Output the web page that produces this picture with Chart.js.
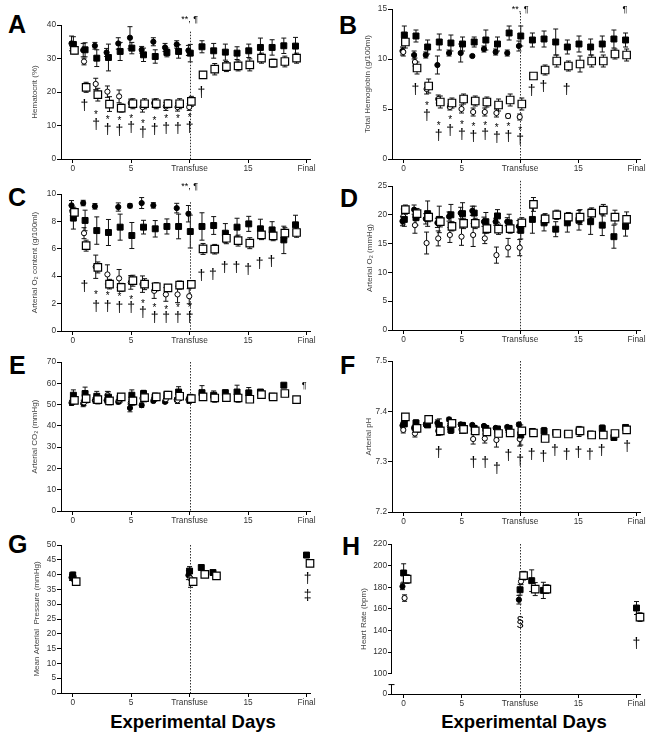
<!DOCTYPE html>
<html lang="en">
<head>
<meta charset="UTF-8">
<title>Experimental Days - panels A-H</title>
<script src="https://cdn.jsdelivr.net/npm/chart.js"></script>
<style>
    body { margin: 0; background: #fff; width: 653px; height: 735px; position: relative; overflow: hidden; font-family: "Liberation Sans", Arial, sans-serif; }
    canvas { position: absolute; }
    .lbl { position: absolute; font-weight: bold; font-size: 25px; line-height: 25px; color: #000; }
    .xt { position: absolute; font-weight: bold; font-size: 18.5px; line-height: 20px; width: 300px; text-align: center; color: #000; }
</style>
</head>
<body>
<div class="lbl" style="left:8px;top:12px">A</div>
<div class="lbl" style="left:339px;top:13px">B</div>
<div class="lbl" style="left:8px;top:185px">C</div>
<div class="lbl" style="left:340px;top:186px">D</div>
<div class="lbl" style="left:9px;top:353px">E</div>
<div class="lbl" style="left:340px;top:353px">F</div>
<div class="lbl" style="left:8px;top:532px">G</div>
<div class="lbl" style="left:342px;top:534px">H</div>
<div class="xt" style="left:43px;top:712px">Experimental Days</div>
<div class="xt" style="left:374px;top:712px">Experimental Days</div>

<script>
    const FONT = '"Liberation Sans", Arial, sans-serif';

    // x axis
    const xTickVals = [0, 5, 10, 15, 20];
    const xTickLabels = ['0', '5', 'Transfuse', '15', 'Final'];
    const days = [0, 1, 2, 3, 4, 5, 6, 7, 8, 9, 10, 11, 12, 13, 14, 15, 16, 17, 18, 19];
    const shortDays = [0, 10, 11, 12, 20];

    // A - hematocrit
    const A_yTicks = [0, 10, 20, 30, 40];
    const A_fc = [34.5, 32.5, 33.8, 31.8, 34.5, 36.2, 32.6, 35.0, 33.3, 34.2, 32.4];
    const A_fcErr = [2.2, 2.0, 1.0, 1.2, 1.7, 3.3, 1.0, 1.2, 1.2, 1.1, 1.5];
    const A_oc = [34.0, 29.1, 22.4, 20.1, 18.7, 16.7, 15.5, 16.7, 15.7, 15.5, 15.5];
    const A_ocErr = [1.0, 1.0, 1.7, 1.7, 1.9, 1.2, 1.5, 1.2, 1.2, 1.2, 1.0];
    const A_fs = [34.2, 32.6, 30.1, 30.3, 32.1, 33.1, 31.1, 30.6, 31.8, 32.1, 31.6, 33.5, 32.3, 31.9, 31.6, 32.3, 33.3, 33.3, 33.8, 33.7];
    const A_fsErr = [2.3, 2.1, 2.5, 4.0, 2.7, 1.7, 2.0, 2.0, 1.3, 2.0, 2.6, 1.8, 2.2, 2.4, 1.9, 2.0, 2.8, 2.3, 2.3, 2.6];
    const A_os = [32.4, 21.4, 19.2, 16.4, 15.2, 16.5, 16.5, 16.5, 16.5, 16.5, 17.2, 25.1, 26.8, 27.6, 27.8, 28.1, 30.1, 28.6, 29.1, 30.1];
    const A_osErr = [1.0, 1.5, 1.9, 2.2, 1.2, 1.5, 1.5, 1.5, 1.2, 1.5, 1.5, 1.0, 1.7, 1.5, 1.5, 1.8, 1.5, 1.2, 1.6, 1.5];
    const A_notes = [[1, 15.9, '†'], [2, 13.0, '*'], [2, 10.2, '†'], [3, 11.7, '*'], [3, 8.7, '†'], [4, 11.2, '*'], [4, 8.4, '†'],
        [5, 11.9, '*'], [5, 9.2, '†'], [6, 10.4, '*'], [6, 7.7, '†'], [7, 11.4, '*'], [7, 8.7, '†'], [8, 11.9, '*'], [8, 8.9, '†'],
        [9, 11.9, '*'], [9, 8.9, '†'], [10, 12.2, '*'], [10, 9.2, '†'], [11, 19.7, '†'], [10, 41.5, '**, ¶']];

    // B - total hemoglobin
    const B_yTicks = [0, 5, 10, 15];
    const B_fc = [10.8, 10.4, 10.4, 9.4, 10.6, 10.6, 10.3, 11.0, 10.7, 10.6, 11.3];
    const B_fcErr = [0.4, 0.4, 0.3, 0.9, 0.3, 0.9, 0.1, 0.3, 0.3, 0.3, 0.5];
    const B_oc = [10.7, 9.7, 7.0, 6.0, 5.2, 5.0, 4.7, 4.7, 4.6, 4.3, 4.2];
    const B_ocErr = [0.4, 0.4, 0.5, 0.4, 0.3, 0.4, 0.4, 0.4, 0.4, 0.2, 0.3];
    const B_fs = [12.4, 12.3, 11.2, 11.7, 11.6, 11.5, 11.7, 11.9, 11.5, 12.6, 12.3, 11.9, 12.0, 11.7, 11.2, 11.5, 11.2, 11.5, 12.0, 11.9];
    const B_fsErr = [0.9, 0.6, 0.7, 0.8, 0.8, 0.7, 0.5, 1.0, 0.7, 0.7, 1.0, 0.7, 0.8, 1.3, 0.7, 0.8, 0.8, 0.8, 0.9, 0.7];
    const B_os = [11.7, 9.1, 7.3, 5.7, 5.6, 6.0, 5.8, 5.7, 5.4, 5.9, 5.5, 8.3, 8.9, 9.8, 9.3, 9.5, 9.8, 9.8, 10.5, 10.4];
    const B_osErr = [0.6, 0.6, 0.7, 0.6, 0.5, 0.5, 0.5, 0.5, 0.6, 0.6, 0.6, 0.2, 0.5, 0.6, 0.5, 0.8, 0.6, 0.6, 0.5, 0.6];
    const B_notes = [[1, 6.9, '†'], [2, 5.3, '*'], [2, 4.3, '†'], [3, 3.3, '*'], [3, 2.3, '†'], [4, 3.9, '*'], [4, 2.8, '†'],
        [5, 3.4, '*'], [5, 2.4, '†'], [6, 3.2, '*'], [6, 2.2, '†'], [7, 3.3, '*'], [7, 2.4, '†'], [8, 3.1, '*'], [8, 2.1, '†'],
        [9, 3.2, '*'], [9, 2.2, '†'], [10, 2.8, '*'], [10, 1.9, '†'], [11, 6.8, '†'], [12, 7.2, '†'], [14, 6.9, '†'],
        [10, 14.9, '**, ¶'], [19, 14.9, '¶']];

    // C - arterial O2 content
    const C_yTicks = [0, 2, 4, 6, 8, 10];
    const C_fc = [9.17, 9.34, 9.1, null, 9.05, 9.14, 9.34, 9.17, null, 8.97, 8.56];
    const C_fcErr = [0.35, 0.2, 0.2, null, 0.3, 0.15, 0.4, 0.2, null, 0.35, 0.6];
    const C_oc = [8.73, 7.14, 4.69, 4.13, 3.84, 3.55, 3.42, 2.93, 2.67, 2.67, 2.54];
    const C_ocErr = [0.3, 0.4, 0.85, 0.7, 0.65, 0.5, 0.6, 0.55, 0.5, 0.6, 0.55];
    const C_fs = [8.24, 8.07, 7.33, 7.19, 7.58, 6.97, 7.58, 7.46, 7.63, 7.63, 7.26, 7.63, 7.7, 7.14, 7.58, 7.82, 7.46, 7.38, 6.65, 7.75];
    const C_fsErr = [0.8, 0.75, 1.0, 0.95, 0.95, 0.95, 0.5, 0.6, 0.55, 0.9, 1.2, 1.0, 0.65, 0.7, 0.65, 0.55, 0.7, 0.6, 1.0, 0.7];
    const C_os = [8.66, 6.23, 4.64, 3.42, 3.18, 3.67, 3.42, 3.23, 3.15, 3.35, 3.4, 5.99, 5.97, 6.77, 6.6, 6.41, 7.02, 6.94, 7.14, 7.19];
    const C_osErr = [0.3, 0.4, 0.4, 0.35, 0.3, 0.4, 0.4, 0.3, 0.2, 0.3, 0.2, 0.4, 0.35, 0.4, 0.4, 0.4, 0.35, 0.35, 0.4, 0.35];
    const C_notes = [[1, 3.18, '†'], [2, 2.6, '*'], [2, 1.76, '†'], [3, 2.54, '*'], [3, 1.76, '†'], [4, 2.49, '*'], [4, 1.64, '†'],
        [5, 2.25, '*'], [5, 1.64, '†'], [6, 1.96, '*'], [6, 1.27, '†'], [7, 1.64, '*'], [7, 0.95, '†'], [8, 1.52, '*'], [8, 0.95, '†'],
        [9, 1.64, '*'], [9, 0.95, '†'], [10, 1.64, '*'], [10, 0.95, '†'], [11, 4.0, '†'], [12, 4.08, '†'], [13, 4.57, '†'],
        [14, 4.57, '†'], [15, 4.45, '†'], [16, 4.87, '†'], [17, 5.06, '†'], [10, 10.56, '**, ¶']];

    // D - arterial O2
    const D_yTicks = [0, 5, 10, 15, 20, 25];
    const D_fc = [18.9, 20.9, 19.3, 18.6, 19.7, 20.3, 20.7, 18.8, 18.8, 18.8, 18.0];
    const D_fcErr = [0.8, 0.8, 0.9, 0.8, 0.8, 1.0, 0.8, 0.8, 0.6, 0.7, 1.0];
    const D_oc = [19.7, 18.2, 15.1, 15.9, 16.5, 16.2, 16.5, 15.9, 13.0, 14.3, 14.3];
    const D_ocErr = [1.3, 1.4, 1.9, 1.3, 1.3, 1.5, 2.0, 0.9, 1.4, 1.6, 1.4];
    const D_fs = [19.2, 19.5, 20.2, 19.2, 20.0, 20.2, 20.3, 18.8, 19.8, 18.6, 17.3, 19.2, 18.6, 17.5, 18.6, 19.05, 18.8, 18.2, 16.2, 18.0];
    const D_fsErr = [1.2, 1.3, 2.2, 2.3, 1.8, 1.9, 1.2, 1.6, 1.1, 1.5, 1.5, 2.4, 1.4, 1.3, 1.6, 1.7, 2.2, 1.8, 2.0, 1.7];
    const D_os = [20.9, 20.2, 19.6, 18.8, 18.0, 18.5, 18.5, 17.6, 17.5, 17.6, 18.6, 21.8, 19.3, 20.0, 19.6, 19.6, 20.3, 20.8, 19.6, 19.2];
    const D_osErr = [0.8, 0.9, 0.8, 0.9, 0.8, 0.9, 0.9, 0.8, 0.9, 0.8, 0.9, 1.2, 0.9, 0.8, 0.8, 1.3, 0.9, 1.0, 1.2, 1.3];

    // E - arterial CO2
    const E_yTicks = [0, 10, 20, 30, 40, 50, 60, 70];
    const E_fc = [50.8, 50.5, 52.0, 52.0, 51.3, 48.4, 49.7, 51.7, 51.3, 52.3, 52.3];
    const E_fcErr = [1.2, 1.5, 1.2, 1.2, 1.0, 1.8, 1.0, 0.8, 0.8, 1.0, 1.2];
    const E_oc = [51.5, 51.0, 52.0, 54.4, 52.0, 51.0, 53.0, 53.0, 52.5, 52.0, 52.0];
    const E_ocErr = [1.5, 1.5, 1.5, 1.8, 1.5, 1.5, 1.5, 1.5, 1.5, 1.5, 1.5];
    const E_fs = [54.4, 55.2, 53.9, 53.5, 53.1, 54.4, 55.2, 53.6, 54.7, 55.9, 53.3, 55.6, 54.4, 55.6, 55.9, 55.5, 55.9, 53.9, 59.1, null];
    const E_fsErr = [2.5, 3.0, 2.3, 2.5, 2.0, 2.5, 1.5, 1.8, 1.5, 2.5, 1.5, 3.3, 2.0, 1.2, 3.2, 2.5, 1.0, 1.0, 0.8, null];
    const E_os = [52.0, 52.8, 52.3, 51.7, 53.6, 51.7, 53.3, 53.6, 54.4, 53.9, 52.8, 53.6, 53.1, 53.3, 53.1, 52.5, 54.7, 53.6, 55.2, 52.3];
    const E_osErr = [1.5, 2.0, 2.0, 1.8, 1.5, 2.0, 2.0, 1.5, 1.5, 2.0, 1.5, 1.5, 2.0, 1.5, 2.0, 1.5, 1.0, 1.0, 1.0, 1.0];
    const E_notes = [[19.8, 59.1, '¶']];

    // F - arterial pH
    const F_yTicks = [7.2, 7.3, 7.4, 7.5];
    const F_fc = [7.372, 7.367, 7.374, 7.377, 7.384, 7.374, 7.373, 7.371, 7.367, 7.369, 7.374];
    const F_fcErr = [0.005, 0.004, 0.004, 0.006, 0.004, 0.004, 0.003, 0.003, 0.003, 0.003, 0.004];
    const F_oc = [7.363, 7.356, 7.373, 7.361, 7.370, 7.364, 7.345, 7.346, 7.343, 7.364, 7.345];
    const F_ocErr = [0.006, 0.007, 0.005, 0.009, 0.006, 0.008, 0.010, 0.009, 0.014, 0.006, 0.014];
    const F_fs = [7.375, 7.377, 7.373, 7.372, 7.363, 7.372, 7.366, 7.366, 7.365, 7.366, 7.353, 7.360, 7.361, 7.358, 7.356, 7.360, 7.355, 7.366, 7.348, 7.368];
    const F_fsErr = [0.005, 0.006, 0.005, 0.013, 0.007, 0.006, 0.006, 0.006, 0.005, 0.006, 0.020, 0.005, 0.007, 0.004, 0.006, 0.010, 0.005, 0.007, 0.003, 0.004];
    const F_os = [7.389, 7.366, 7.384, 7.361, 7.376, 7.364, 7.361, 7.359, 7.356, 7.357, 7.361, 7.357, 7.346, 7.356, 7.355, 7.361, 7.353, 7.353, 7.356, 7.363];
    const F_osErr = [0.004, 0.008, 0.004, 0.008, 0.006, 0.008, 0.006, 0.006, 0.006, 0.005, 0.006, 0.004, 0.004, 0.004, 0.006, 0.008, 0.006, 0.006, 0.004, 0.004];
    const F_notes = [[3, 7.317, '†'], [6, 7.298, '†'], [7, 7.298, '†'], [8, 7.286, '†'], [9, 7.310, '†'], [10, 7.301, '†'],
        [11, 7.313, '†'], [12, 7.308, '†'], [13, 7.321, '†'], [14, 7.313, '†'], [15, 7.316, '†'], [16, 7.313, '†'],
        [17, 7.321, '†'], [19.2, 7.328, '†']];

    // G - mean arterial pressure (days 0, 10, 11, 12, final)
    const G_yTicks = [0, 5, 10, 15, 20, 25, 30, 35, 40, 45, 50];
    const G_fc = [39.0, 39.8, null, null, null];
    const G_fcErr = [1.0, 1.5, null, null, null];
    const G_oc = [39.3, 38.7, null, null, null];
    const G_ocErr = [1.5, 3.0, null, null, null];
    const G_fs = [39.8, 41.2, 42.4, 40.7, 46.6];
    const G_fsErr = [1.0, 1.5, 0.5, 0.5, 0.8];
    const G_os = [37.6, 37.6, 40.1, 39.6, 43.8];
    const G_osErr = [1.0, 1.2, 0.5, 0.8, 1.0];
    const G_notes = [[20.1, 38.4, '†'], [20.1, 32.7, '‡']];

    // H - heart rate (broken axis below 100)
    const H_yTicks = [0, 100, 120, 140, 160, 180, 200, 220];
    const H_fc = [180.8, 168.5, null, null, null];
    const H_fcErr = [3, 4, null, null, null];
    const H_oc = [170.0, 185.4, null, null, null];
    const H_ocErr = [3, 3, null, null, null];
    const H_fs = [193.2, 177.7, 186.1, 177.1, 160.8];
    const H_fsErr = [8.5, 5, 10, 7.5, 6];
    const H_os = [187.6, 190.7, 178.3, 178.3, 152.4];
    const H_osErr = [4, 4, 6, 4, 4];
    const H_notes = [[10, 146.9, '§'], [20, 127.8, '†']];

    const offNormal = { fc: -0.1, oc: -0.03, fs: 0.06, os: 0.15 };
    const offWide = { fc: -0.1, oc: 0.08, fs: 0.0, os: 0.3 };

    const panels = [
        { box: [61, 25, 310, 159], yw: 35, y: [0, 40], ticks: A_yTicks, title: 'Hematocrit (%)', days: days, off: offNormal, dashFrom: 38,
          fc: A_fc, fcErr: A_fcErr, oc: A_oc, ocErr: A_ocErr, fs: A_fs, fsErr: A_fsErr, os: A_os, osErr: A_osErr, notes: A_notes },
        { box: [392, 9, 640, 159], yw: 33, y: [0, 15], ticks: B_yTicks, title: 'Total Hemoglobin (g/100ml)', days: days, off: offNormal, dashFrom: 14.6,
          fc: B_fc, fcErr: B_fcErr, oc: B_oc, ocErr: B_ocErr, fs: B_fs, fsErr: B_fsErr, os: B_os, osErr: B_osErr, notes: B_notes },
        { box: [61, 194, 310, 331], yw: 35, y: [0, 10], ticks: C_yTicks, title: 'Arterial O\u2082 content (g/100ml)', days: days, off: offNormal, dashFrom: 9.4,
          fc: C_fc, fcErr: C_fcErr, oc: C_oc, ocErr: C_ocErr, fs: C_fs, fsErr: C_fsErr, os: C_os, osErr: C_osErr, notes: C_notes },
        { box: [392, 186, 640, 330], yw: 31, y: [0, 25], ticks: D_yTicks, title: 'Arterial O\u2082 (mmHg)', days: days, off: offNormal, dashFrom: 25.9,
          fc: D_fc, fcErr: D_fcErr, oc: D_oc, ocErr: D_ocErr, fs: D_fs, fsErr: D_fsErr, os: D_os, osErr: D_osErr, notes: [] },
        { box: [61, 362, 310, 511], yw: 35, y: [0, 70], ticks: E_yTicks, title: 'Arterial CO\u2082 (mmHg)', days: days, off: offNormal, dashFrom: 70,
          fc: E_fc, fcErr: E_fcErr, oc: E_oc, ocErr: E_ocErr, fs: E_fs, fsErr: E_fsErr, os: E_os, osErr: E_osErr, notes: E_notes },
        { box: [392, 361, 640, 512], yw: 32, y: [7.2, 7.5], ticks: F_yTicks, title: 'Arterial pH', days: days, off: offNormal, dashFrom: 7.5,
          fc: F_fc, fcErr: F_fcErr, oc: F_oc, ocErr: F_ocErr, fs: F_fs, fsErr: F_fsErr, os: F_os, osErr: F_osErr, notes: F_notes },
        { box: [61, 545, 310, 693], yw: 33, y: [0, 50], ticks: G_yTicks, title: 'Mean Arterial  Pressure (mmHg)', days: shortDays, off: offWide, dashFrom: 50,
          fc: G_fc, fcErr: G_fcErr, oc: G_oc, ocErr: G_ocErr, fs: G_fs, fsErr: G_fsErr, os: G_os, osErr: G_osErr, notes: G_notes },
        { box: [392, 544, 640, 694], yw: 37, y: [81.3, 220], ticks: H_yTicks, broken: true, title: 'Heart Rate (bpm)', days: shortDays, off: offWide, dashFrom: 220,
          fc: H_fc, fcErr: H_fcErr, oc: H_oc, ocErr: H_ocErr, fs: H_fs, fsErr: H_fsErr, os: H_os, osErr: H_osErr, notes: H_notes }
    ];

    function points(vals, errs, dayList, off) {
        return vals.map((v, i) => v == null ? null : { x: dayList[i] + off, y: v, e: errs ? errs[i] : null }).filter(Boolean);
    }

    // error bars, behind the markers
    const errorBars = {
        id: 'errorBars',
        beforeDatasetsDraw(chart) {
            const ctx = chart.ctx, ys = chart.scales.y;
            chart.data.datasets.forEach((ds, i) => {
                const meta = chart.getDatasetMeta(i);
                ctx.save();
                ctx.strokeStyle = '#111';
                ctx.lineWidth = 1;
                meta.data.forEach((pt, j) => {
                    const d = ds.data[j];
                    if (d.e == null) return;
                    const top = ys.getPixelForValue(d.y + d.e), bot = ys.getPixelForValue(d.y - d.e);
                    ctx.beginPath();
                    ctx.moveTo(pt.x, top); ctx.lineTo(pt.x, bot);
                    ctx.moveTo(pt.x - 2.5, top); ctx.lineTo(pt.x + 2.5, top);
                    ctx.moveTo(pt.x - 2.5, bot); ctx.lineTo(pt.x + 2.5, bot);
                    ctx.stroke();
                });
                ctx.restore();
            });
        }
    };

    // dotted transfusion line
    const transfuseLine = {
        id: 'transfuseLine',
        beforeDatasetsDraw(chart, args, opts) {
            const ctx = chart.ctx, x = chart.scales.x.getPixelForValue(10);
            ctx.save();
            ctx.strokeStyle = '#333';
            ctx.lineWidth = 1;
            ctx.setLineDash([1.5, 1.5]);
            ctx.beginPath();
            ctx.moveTo(Math.round(x) + 0.5, chart.scales.y.getPixelForValue(opts.from));
            ctx.lineTo(Math.round(x) + 0.5, chart.chartArea.bottom);
            ctx.stroke();
            ctx.restore();
        }
    };

    // significance marks
    const notes = {
        id: 'notes',
        afterDraw(chart, args, opts) {
            const ctx = chart.ctx;
            ctx.save();
            ctx.fillStyle = '#000';
            ctx.textAlign = 'center';
            ctx.textBaseline = 'middle';
            (opts.list || []).forEach(([d, v, txt]) => {
                let size = 9;
                if (txt === '*') size = 10;
                else if (txt.length === 1 && txt !== '¶') size = 14;
                ctx.font = size + 'px ' + FONT;
                ctx.fillText(txt, chart.scales.x.getPixelForValue(d), chart.scales.y.getPixelForValue(v));
            });
            ctx.restore();
        }
    };

    // broken y axis for heart rate
    const brokenAxis = {
        id: 'brokenAxis',
        afterDraw(chart, args, opts) {
            if (!opts.on) return;
            const ctx = chart.ctx, ys = chart.scales.y, x = chart.chartArea.left - 0.5;
            ctx.save();
            ctx.strokeStyle = '#000';
            ctx.lineWidth = 1;
            ctx.beginPath();
            ctx.moveTo(x, ys.getPixelForValue(220));
            ctx.lineTo(x, ys.getPixelForValue(100));
            const lowTop = ys.getPixelForValue(90);
            ctx.moveTo(x, ys.getPixelForValue(ys.min));
            ctx.lineTo(x, lowTop);
            ctx.moveTo(x - 3, lowTop);
            ctx.lineTo(x + 3, lowTop);
            ctx.stroke();
            ctx.restore();
        }
    };

    panels.forEach(p => {
        const [l, t, r, b] = p.box;
        const W = r - l + p.yw + 12, H = b - t + 50;
        const cv = document.createElement('canvas');
        cv.width = W; cv.height = H;
        cv.style.left = (l - p.yw) + 'px';
        cv.style.top = (t - 30) + 'px';
        cv.style.width = W + 'px';
        cv.style.height = H + 'px';
        document.body.appendChild(cv);

        const fmt = v => String(Math.round(v * 10) / 10);

        new Chart(cv, {
            type: 'scatter',
            data: {
                datasets: [
                    { data: points(p.os, p.osErr, p.days, p.off.os), pointStyle: 'rect', pointRadius: 5.3, backgroundColor: '#fff', borderColor: '#000', borderWidth: 1.2 },
                    { data: points(p.fs, p.fsErr, p.days, p.off.fs), pointStyle: 'rect', pointRadius: 4.2, backgroundColor: '#000', borderColor: '#000', borderWidth: 1 },
                    { data: points(p.oc, p.ocErr, p.days, p.off.oc), pointStyle: 'circle', pointRadius: 2.6, backgroundColor: '#fff', borderColor: '#000', borderWidth: 1 },
                    { data: points(p.fc, p.fcErr, p.days, p.off.fc), pointStyle: 'circle', pointRadius: 2.6, backgroundColor: '#000', borderColor: '#000', borderWidth: 1 }
                ].map(ds => Object.assign(ds, { showLine: false, clip: false, pointHoverRadius: ds.pointRadius }))
            },
            options: {
                responsive: false,
                animation: false,
                events: [],
                layout: { padding: { top: 30, right: 12, left: 0, bottom: 0 } },
                plugins: {
                    legend: { display: false },
                    tooltip: { enabled: false },
                    transfuseLine: { from: p.dashFrom },
                    notes: { list: p.notes },
                    brokenAxis: { on: !!p.broken }
                },
                scales: {
                    x: {
                        type: 'linear', min: -1, max: 20.3,
                        afterBuildTicks: s => { s.ticks = xTickVals.map(v => ({ value: v })); },
                        afterFit: s => { s.height = 20; },
                        grid: { drawOnChartArea: false, drawTicks: true, tickLength: 4, color: '#000' },
                        border: { color: '#000', width: 1 },
                        ticks: {
                            color: '#333', padding: 1, maxRotation: 0, autoSkip: false,
                            font: { family: FONT, size: 8.3 },
                            callback: v => xTickLabels[xTickVals.indexOf(v)]
                        }
                    },
                    y: {
                        type: 'linear', min: p.y[0], max: p.y[1],
                        afterBuildTicks: s => { s.ticks = p.ticks.map(v => ({ value: (p.broken && v === 0) ? p.y[0] : v })); },
                        afterFit: s => { s.width = p.yw; },
                        grid: { drawOnChartArea: false, drawTicks: true, tickLength: 4, color: '#000' },
                        border: { display: !p.broken, color: '#000', width: 1 },
                        ticks: {
                            color: '#333', padding: 1, autoSkip: false,
                            font: { family: FONT, size: 8.3 },
                            callback: v => (p.broken && v < 100) ? '0' : fmt(v)
                        },
                        title: { display: true, text: p.title, color: '#444', font: { family: FONT, size: 8 }, padding: { top: 4, bottom: 0 } }
                    }
                }
            },
            plugins: [errorBars, transfuseLine, notes, brokenAxis]
        });
    });
</script>
</body>
</html>
